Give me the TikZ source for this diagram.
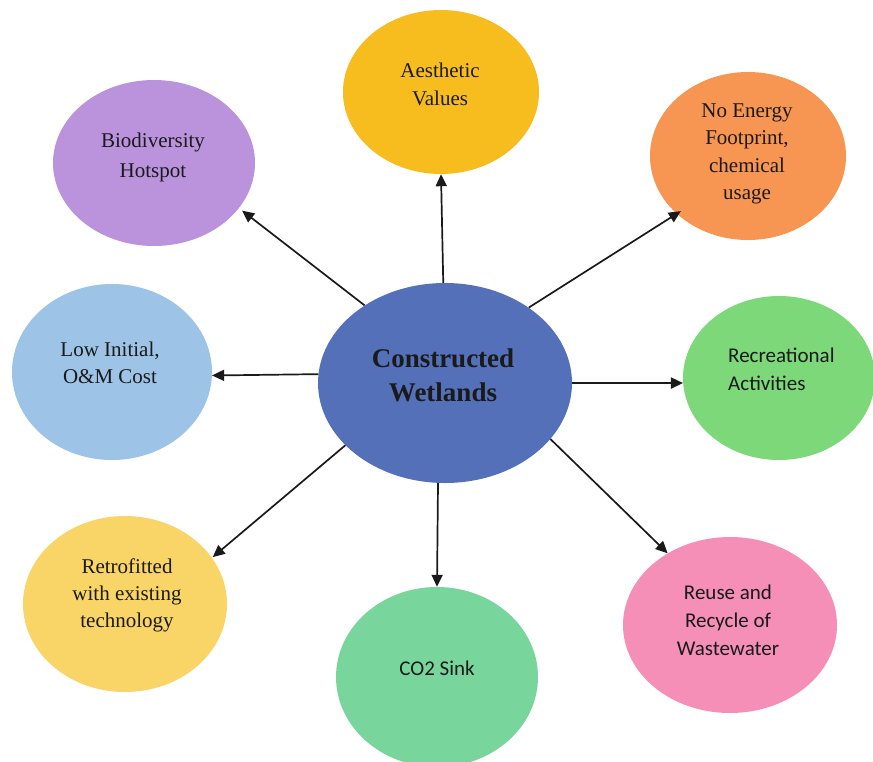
\documentclass[tikz,border=0pt]{standalone}
\usepackage{fontspec}
\setmainfont{Liberation Serif}
\newfontfamily\calib{Carlito}
\usetikzlibrary{shapes.geometric,arrows.meta}

\definecolor{cwblue}{HTML}{5470B9}
\definecolor{aesYellow}{HTML}{F7BC1E}
\definecolor{bioPurple}{HTML}{BB93DD}
\definecolor{noeOrange}{HTML}{F79552}
\definecolor{lowBlue}{HTML}{9DC3E6}
\definecolor{recGreen}{HTML}{7DD87A}
\definecolor{retYellow}{HTML}{F9D466}
\definecolor{coGreen}{HTML}{78D69C}
\definecolor{reuPink}{HTML}{F58FB7}
\definecolor{inkDark}{HTML}{1A1A1A}

\begin{document}
\begin{tikzpicture}[x=1pt,y=-1pt,
  bubble/.style={ellipse, draw=none, inner sep=0pt},
  serifText/.style={align=center, inner sep=0pt, text=inkDark,
    font=\fontsize{21}{28}\selectfont},
  sansText/.style={align=center, inner sep=0pt, text=inkDark,
    font=\calib\fontsize{21}{28}\selectfont},
  link/.style={draw=inkDark, line width=1.7pt,
    -{Triangle[length=12pt,width=11pt]}}]

\clip (0,0) rectangle (873,761);
\fill[white] (0,0) rectangle (873,761);

% bubbles
\node[bubble, fill=cwblue,    minimum width=254, minimum height=200] (cw)  at (445,383) {};
\node[bubble, fill=aesYellow, minimum width=196, minimum height=164] (aes) at (441,92)  {};
\node[bubble, fill=bioPurple, minimum width=202, minimum height=166] (bio) at (154,163) {};
\node[bubble, fill=noeOrange, minimum width=196, minimum height=168] (noe) at (748,156) {};
\node[bubble, fill=lowBlue,   minimum width=200, minimum height=176] (low) at (112,372) {};
\node[bubble, fill=recGreen,  minimum width=192, minimum height=164] (rec) at (779,378) {};
\node[bubble, fill=retYellow, minimum width=204, minimum height=176] (ret) at (125,604) {};
\node[bubble, fill=coGreen,   minimum width=202, minimum height=180] (co2) at (437,677) {};
\node[bubble, fill=reuPink,   minimum width=214, minimum height=176] (reu) at (730,625) {};

% labels
\node[align=center, inner sep=0pt, text=inkDark,
      font=\bfseries\fontsize{27}{34}\selectfont] (cwT) at (443,375) {Constructed\\Wetlands};
\node[serifText] (aesT) at (440,84)  {Aesthetic\\Values};
\node[serifText, font=\fontsize{21}{30}\selectfont] (bioT) at (153,157) {Biodiversity\\Hotspot};
\node[serifText, font=\fontsize{21}{27.5}\selectfont] (noeT) at (747,154) {No Energy\\Footprint,\\chemical\\usage};
\node[serifText, font=\fontsize{21}{27}\selectfont] (lowT) at (110,363) {Low Initial,\\O\&M Cost};
\node[sansText, align=left, anchor=west] (recT) at (728,369) {Recreational\\Activities};
\node[serifText, font=\fontsize{21}{27}\selectfont] (retT) at (127,595) {Retrofitted\\with existing\\technology};
\node[sansText] (co2T) at (437,668) {CO2 Sink};
\node[sansText] (reuT) at (728,620) {Reuse and\\Recycle of\\Wastewater};

% connectors
\draw[link] (cw.91)  -- (aes.270);
\draw[link, shorten >=4pt] (cw.136) -- (bio.332);
\draw[link, shorten >=-5pt] (cw.42) -- (noe.219);
\draw[link] (cw.176) -- (low.358);
\draw[link] (cw.0)   -- (rec.183);
\draw[link, shorten >=1pt] (cw.212) -- (ret.28);
\draw[link] (cw.266) -- (co2.90);
\draw[link] (cw.332) -- (reu.131);
\end{tikzpicture}
\end{document}
